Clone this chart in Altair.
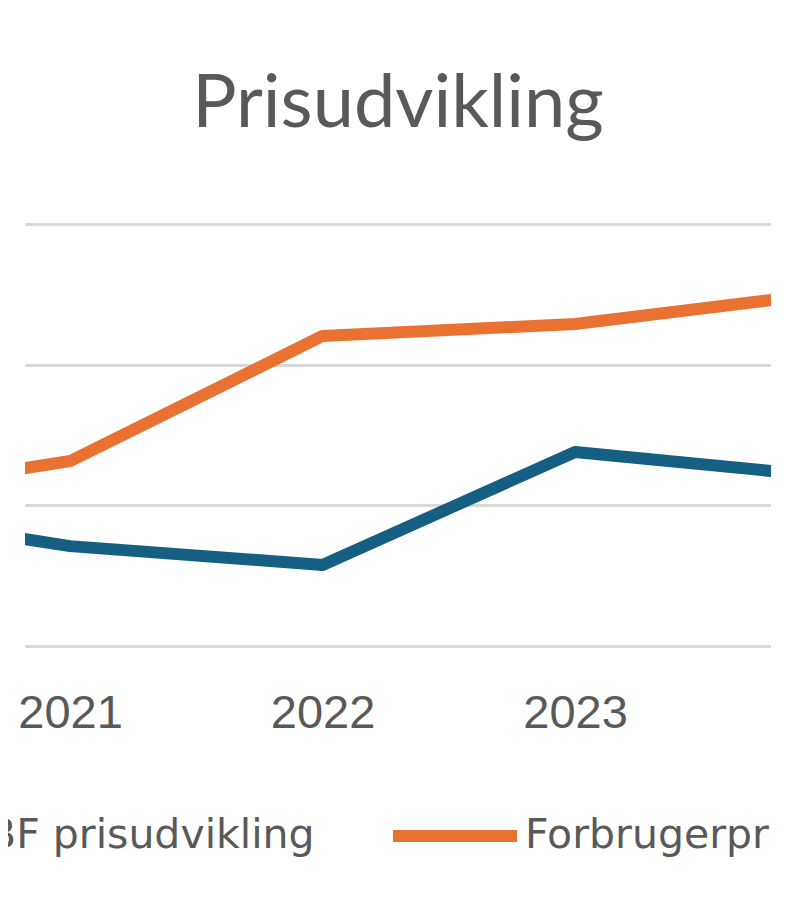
import altair as alt
import pandas as pd

# ---- data (units: one gridline step = 1) ----
years = [2020, 2021, 2022, 2023, 2024]
blue_values = [0.99, 0.71, 0.576, 1.379, 1.205]
orange_values = [1.035, 1.315, 2.204, 2.289, 2.509]
series_names = ["BF prisudvikling", "Forbrugerprisindeks"]
series_colors = ["#156082", "#E97132"]
tick_years = [2021, 2022, 2023]
grid_values = [0, 1, 2, 3]

rows = []
for yr, v in zip(years, blue_values):
    rows.append({"year": yr, "value": v, "series": series_names[0]})
for yr, v in zip(years, orange_values):
    rows.append({"year": yr, "value": v, "series": series_names[1]})
df = pd.DataFrame(rows)

chart = alt.Chart(df).mark_line(
    strokeWidth=12, clip=True, strokeJoin="round", strokeCap="round"
).encode(
    x=alt.X(
        "year:Q",
        scale=alt.Scale(domain=[2020.8214, 2023.776], nice=False, zero=False),
        axis=alt.Axis(
            values=tick_years, format="d", title=None, grid=False, domain=False,
            ticks=False, tickSize=0, labelFont="Liberation Sans", labelFontSize=47,
            labelColor="#595959", labelPadding=81, labelBaseline="alphabetic",
            labelOverlap=False, labelFlush=False, labelBound=False,
        ),
    ),
    y=alt.Y(
        "value:Q",
        scale=alt.Scale(domain=[0, 3], nice=False, zero=False),
        axis=alt.Axis(
            values=grid_values, title=None, labels=False, ticks=False, domain=False,
            grid=True, gridColor="#d9d9d9", gridWidth=3,
        ),
    ),
    color=alt.Color(
        "series:N",
        scale=alt.Scale(domain=series_names, range=series_colors),
        legend=alt.Legend(
            title=None, orient="none", direction="horizontal",
            legendX=-175, legendY=544, padding=0,
            symbolType="stroke", symbolSize=15376, symbolStrokeWidth=12,
            labelFont="DejaVu Sans", labelFontSize=41, labelColor="#595959",
            labelOffset=2, columnPadding=54, labelLimit=1000,
        ),
    ),
).properties(
    width=746,
    height=422,
    title=alt.Title(
        "Prisudvikling", font="Lato", fontSize=74, fontWeight="normal",
        color="#595959", anchor="middle", offset=23, baseline="alphabetic",
    ),
    padding={"left": 17, "top": 216, "right": 0, "bottom": 260},
    autosize=alt.AutoSizeParams(type="none"),
).configure_view(stroke=None)

chart.save("out.html", embed_options={"renderer": "svg", "actions": False})
